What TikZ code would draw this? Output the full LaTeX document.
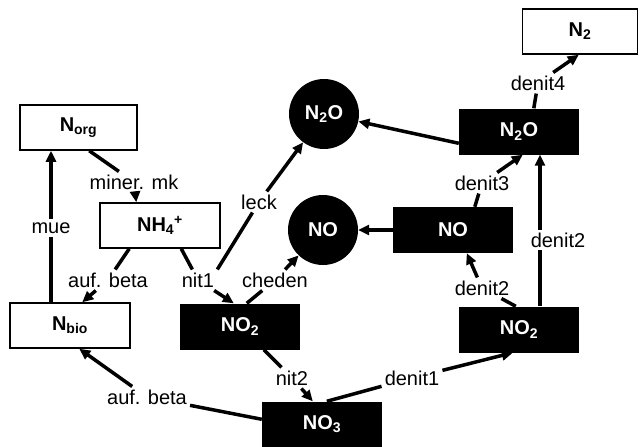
\documentclass[tikz,border=0pt]{standalone}
\usepackage{fontspec}
\setmainfont{Liberation Sans}
\usetikzlibrary{arrows.meta,calc}
\begin{document}
\begin{tikzpicture}[x=1pt,y=-1pt,
  every node/.style={font=\fontsize{20}{23}\selectfont},
  wbox/.style={draw,line width=1.5pt,minimum width=117pt,minimum height=45pt,inner sep=0pt,font=\fontsize{20}{23}\selectfont\bfseries},
  bbox/.style={fill=black,text=white,minimum width=120pt,minimum height=46pt,inner sep=0pt,font=\fontsize{20}{23}\selectfont\bfseries},
  bcirc/.style={circle,fill=black,text=white,minimum size=70pt,inner sep=0pt,font=\fontsize{20}{23}\selectfont\bfseries},
  lab/.style={fill=white,inner sep=3pt},
  conn/.style={line width=3.5pt},
  arr/.style={conn,-{Triangle[length=11pt,width=10pt]}},
]
\useasboundingbox (0,0) rectangle (641,447);
% nodes
\node[wbox] (Norg) at (78.5,127.5) {N\textsubscript{org}};
\node[wbox,minimum width=120pt] (NH4) at (160,225.5) {NH\textsubscript{4}\textsuperscript{+}};
\node[wbox,minimum width=120pt] (Nbio) at (70,325.5) {N\textsubscript{bio}};
\node[wbox,minimum width=115pt] (N2) at (580,31.5) {N\textsubscript{2}};
\node[bbox] (NO2L) at (240,326.5) {NO\textsubscript{2}};
\node[bbox] (NO3) at (322,424.5) {NO\textsubscript{3}};
\node[bbox] (NO2R) at (519,329.5) {NO\textsubscript{2}};
\node[bbox] (NOb) at (453,230) {NO};
\node[bbox] (N2Ob) at (519,131.5) {N\textsubscript{2}O};
\node[bcirc] (N2Oc) at (324,114) {N\textsubscript{2}O};
\node[bcirc] (NOc) at (323,230) {NO};
% labels
\node[lab] (lmue) at (51,228) {mue};
\node[lab] (lmin) at (134,182) {miner. mk};
\node[lab] (lauf1) at (108,280) {auf. beta};
\node[lab] (lnit1) at (198,280) {nit1};
\node[lab] (lleck) at (259,202) {leck};
\node[lab] (lched) at (275,280) {cheden};
\node[lab] (lnit2) at (292,378) {nit2};
\node[lab] (lden1) at (412,378) {denit1};
\node[lab] (lauf2) at (147,397) {auf. beta};
\node[lab] (lden2a) at (482,288) {denit2};
\node[lab] (lden3) at (482,183) {denit3};
\node[lab] (lden4) at (538,83) {denit4};
% connectors
\draw[conn] (Nbio.north -| lmue) -- (lmue);
\draw[arr] (lmue) -- (Norg.south -| lmue);
\draw[conn] ($(Norg.south west)+(70,0)$) -- (lmin);
\draw[arr] (lmin) -- ($(NH4.north west)+(37,0)$);
\draw[conn] ($(NH4.south west)+(30,0)$) -- (lauf1);
\draw[arr] (lauf1) -- ($(Nbio.north west)+(73,0)$);
\draw[conn] ($(NH4.south west)+(82,0)$) -- (lnit1);
\draw[arr] (lnit1) -- ($(NO2L.north west)+(54,0)$);
\draw[conn] (lnit1.north east) -- (lleck);
\draw[arr] (lleck) -- (N2Oc);
\draw[conn] ($(NO2L.north west)+(67,0)$) -- (lched);
\draw[arr] (lched) -- (NOc);
\draw[conn] ($(NO2L.south west)+(84,0)$) -- (lnit2);
\draw[arr] (lnit2) -- ($(NO3.north west)+(51,0)$);
\draw[conn] ($(NO3.north west)+(65,0)$) -- (lden1);
\draw[arr] (lden1) -- ($(NO2R.south west)+(54,0)$);
\draw[conn] ($(NO3.north west)+(0,18)$) -- (lauf2);
\draw[arr] (lauf2) -- ($(Nbio.south west)+(70,0)$);
\draw[arr] (NOb) -- (NOc);
\draw[arr] ($(N2Ob.north west)+(0,35)$) -- (N2Oc);
\draw[conn] ($(N2Ob.north west)+(75,0)$) -- (lden4);
\draw[arr] (lden4) -- ($(N2.south west)+(57,0)$);
\draw[conn] ($(NOb.north west)+(82,0)$) -- (lden3);
\draw[arr] (lden3) -- ($(N2Ob.south west)+(64,0)$);
\draw[conn] ($(NO2R.north west)+(57,0)$) -- (lden2a);
\draw[arr] (lden2a) -- ($(NOb.south west)+(74,0)$);
\coordinate (vx) at (540,0);
\draw[arr] (NO2R.north -| vx) -- (N2Ob.south -| vx);
\node[lab] (lden2b) at (558,240) {denit2};
\end{tikzpicture}
\end{document}
